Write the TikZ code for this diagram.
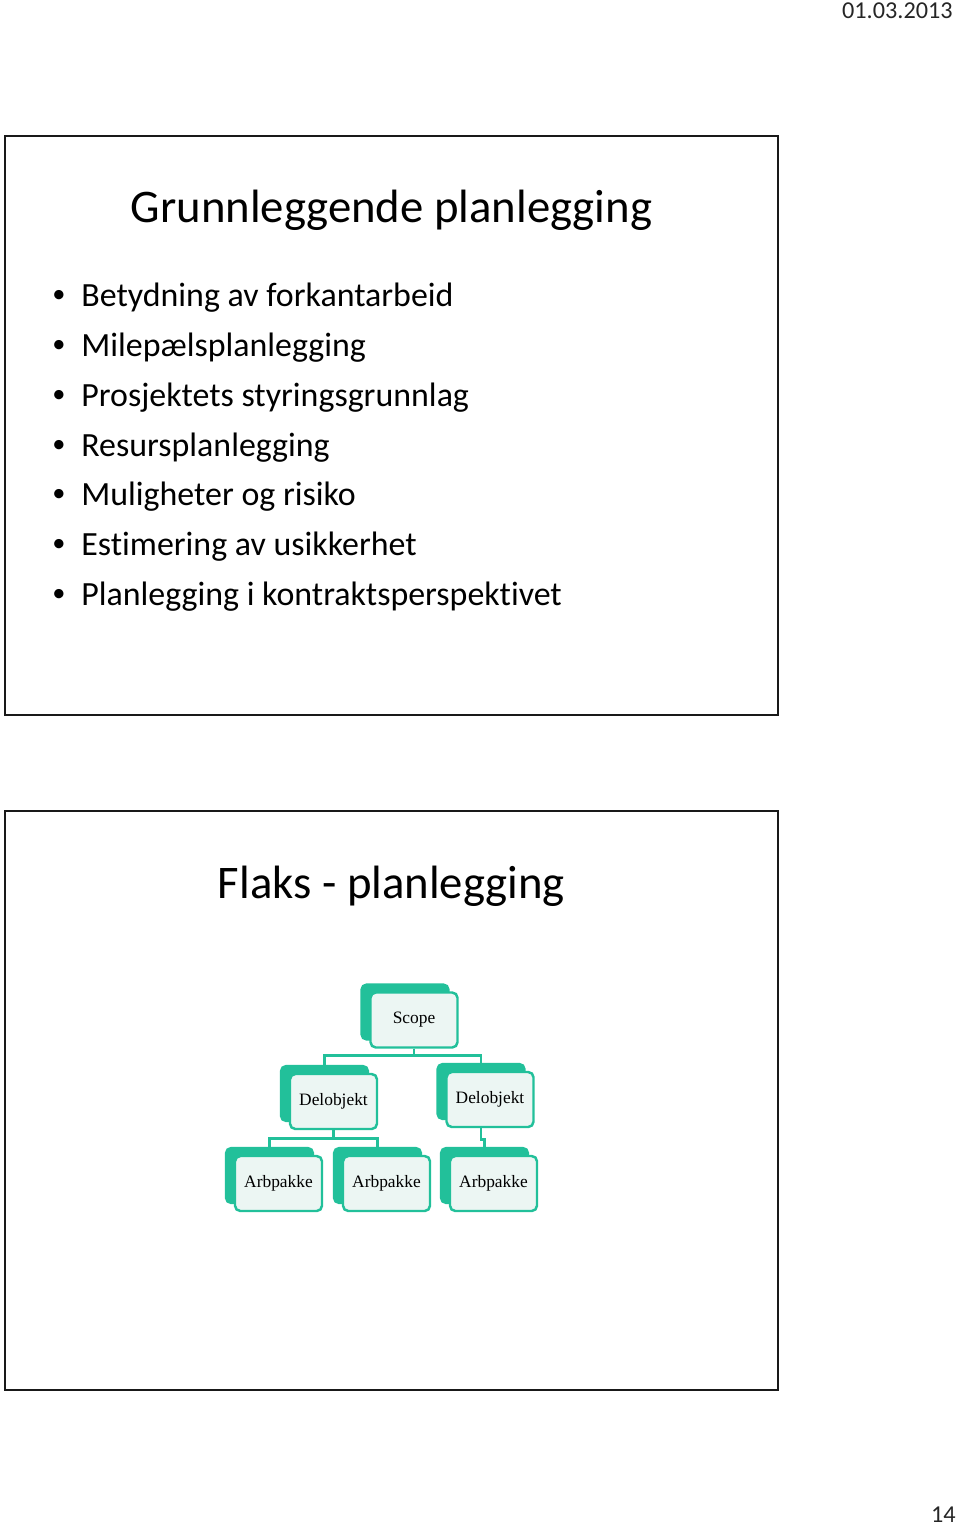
\documentclass[tikz,border=0pt]{standalone}
\usepackage{fontspec}
\setmainfont{Carlito}[Ligatures=CommonOff]
\newfontfamily\boxfont{Liberation Serif}
\usetikzlibrary{shadows,backgrounds}

\begin{document}
\begin{tikzpicture}[x=0.02cm,y=-0.02cm,
% Define slide styles
framecolor/.style={draw=black!90, line width=1.2pt},
title/.style={anchor=base, inner sep=0pt, font=\fontsize{26.6}{30}\selectfont},
bullet/.style={anchor=base west, inner sep=0pt, font=\fontsize{19.3}{23}\selectfont},
pageinfo/.style={anchor=base east, inner sep=0pt, font=\fontsize{13.8}{16}\selectfont, text=black!85},
wbs/.style={draw=wbsteal, line width=1.4pt, fill=wbsfill, rounded corners=3pt,
    minimum width=1.74cm, minimum height=1.1cm, inner sep=0pt,
    font=\boxfont\fontsize{9.9}{12}\selectfont,
    copy shadow={shadow xshift=-0.18cm, shadow yshift=0.16cm, fill=wbsteal, draw=wbsteal}},
link/.style={draw=wbsteal, line width=1.5pt}]

\definecolor{wbsteal}{RGB}{34,192,154}
\definecolor{wbsfill}{RGB}{236,246,243}

\useasboundingbox (0,0) rectangle (960,1527);

% Page header and footer
\node[pageinfo] (date) at (953,18.5) {01.03.2013};
\node[pageinfo] (page) at (956,1522) {14};

% Slide 1
\draw[framecolor] (5,136) rectangle (778,715);
\node[title] (title1) at (391.5,222.7) {Grunnleggende planlegging};
\foreach \txt [count=\i] in {Betydning av forkantarbeid, Milepælsplanlegging,
    Prosjektets styringsgrunnlag, Resursplanlegging, Muligheter og risiko,
    Estimering av usikkerhet, Planlegging i kontraktsperspektivet}
{
    \node[bullet, font=\fontsize{15}{18}\selectfont] (dot\i) at (52,{303+(\i-1)*49.7}) {•};
    \node[bullet] (item\i) at (81,{307+(\i-1)*49.7}) {\txt};
}

% Slide 2
\draw[framecolor] (5,811) rectangle (778,1390);
\node[title] (title2) at (391.5,898.5) {Flaks - planlegging};

% Work breakdown
\node[wbs] (scope) at (414,1020) {Scope};
\node[wbs] (del1) at (333.5,1101.5) {Delobjekt};
\node[wbs] (del2) at (490,1099.5) {Delobjekt};
\node[wbs] (arb1) at (278.5,1183.5) {Arbpakke};
\node[wbs] (arb2) at (386.5,1183.5) {Arbpakke};
\node[wbs] (arb3) at (493.5,1183.5) {Arbpakke};

\begin{scope}[on background layer]
\draw[link] (scope.south) -- ++(0,7) -| ([xshift=-0.18cm,yshift=0.16cm]del1.north);
\draw[link] (scope.south) -- ++(0,7) -| ([xshift=-0.18cm,yshift=0.16cm]del2.north);
\draw[link] ([xshift=-0.18cm]del1.south) ++(9,0) -- ++(0,8) -| ([xshift=-0.18cm,yshift=0.16cm]arb1.north);
\draw[link] ([xshift=-0.18cm]del1.south) ++(9,0) -- ++(0,8) -| ([xshift=-0.18cm,yshift=0.16cm]arb2.north);
\draw[link] ([xshift=-0.18cm]del2.south) -- ++(0,11) -| ([xshift=-0.18cm,yshift=0.16cm]arb3.north);
\end{scope}
\end{tikzpicture}
\end{document}
